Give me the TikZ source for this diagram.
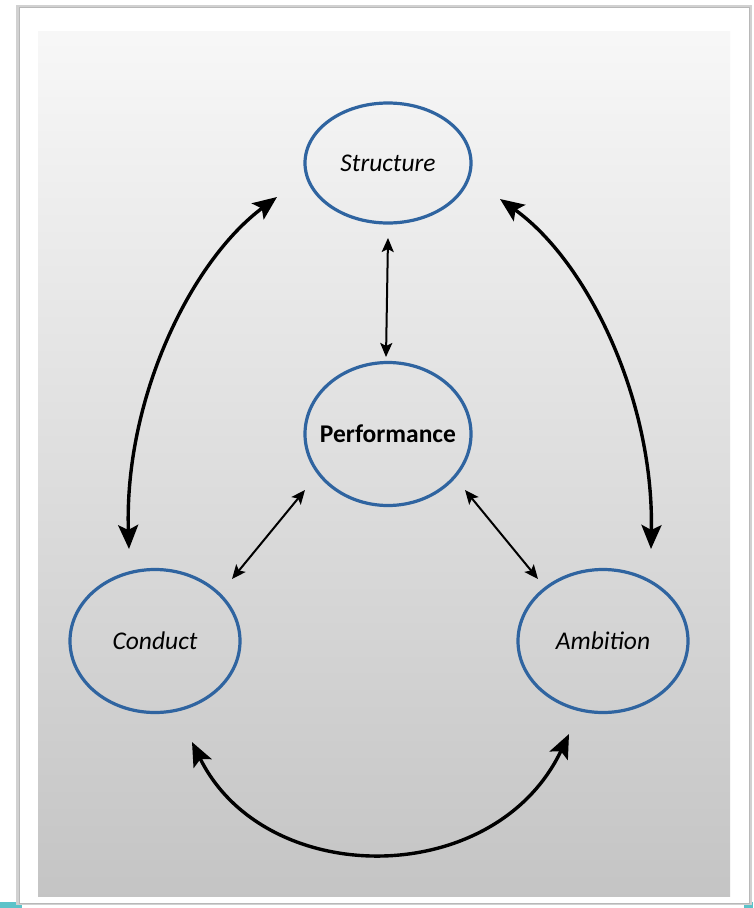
\documentclass[tikz,border=0pt]{standalone}
\usepackage{fontspec}
\setmainfont{Carlito}
\usetikzlibrary{arrows.meta,calc,shapes.geometric,shadows}
\definecolor{ringblue}{HTML}{2F64A0}
\definecolor{tealbar}{HTML}{5CC3C9}
\begin{document}
\begin{tikzpicture}[x=1pt,y=-1pt,
  ring/.style={ellipse,draw=ringblue,line width=3.2pt,fill=none,inner sep=0pt},
  lbl/.style={font=\fontsize{25.5}{30}\selectfont\itshape},
  bigarrow/.style={line width=3.4pt,{Stealth[length=24pt,width=20pt,inset=5pt]}-{Stealth[length=24pt,width=20pt,inset=5pt]}},
  smallarrow/.style={line width=2pt,{Stealth[length=14pt,width=12pt,inset=3pt]}-{Stealth[length=14pt,width=12pt,inset=3pt]}}]
\useasboundingbox (0,0) rectangle (753,908);
% frame
\fill[white] (0,0) rectangle (753,908);
\fill[tealbar] (0,902) rectangle (22,908);
\fill[tealbar] (744,902) rectangle (753,908);
\fill[black!18] (16,5) rectangle (752,905);
\fill[white,draw=black!28,line width=0.8pt] (19,7) rectangle (749,903);
\shade[top color=white!97!black,bottom color=black!23] (38,31) rectangle (730,896);
% nodes
\node[ring,minimum width=166pt,minimum height=120pt] (S) at (388,163) {};
\node[lbl] at (S) {Structure};
\node[ring,minimum width=166pt,minimum height=143pt] (P) at (388,434) {};
\node[font=\fontsize{25.5}{30}\selectfont\bfseries] at (P) {Performance};
\node[ring,minimum width=170pt,minimum height=143pt] (C) at (155,641) {};
\node[lbl] at (C) {Conduct};
\node[ring,minimum width=170pt,minimum height=143pt] (A) at (603,641) {};
\node[lbl] at (A) {Ambition};
% arrow ends
\coordinate (sl) at ($(S)+(-111,34)$);
\coordinate (sr) at ($(S)+(112,36)$);
\coordinate (sb) at ($(S)+(0,75)$);
\coordinate (pt) at ($(P)+(-2,-77)$);
\coordinate (pl) at ($(P)+(-83,56)$);
\coordinate (pr) at ($(P)+(77,56)$);
\coordinate (ct) at ($(C)+(-26,-92)$);
\coordinate (cr) at ($(C)+(77,-62)$);
\coordinate (cb) at ($(C)+(37,101)$);
\coordinate (at) at ($(A)+(48,-92)$);
\coordinate (al) at ($(A)+(-65,-62)$);
\coordinate (ab) at ($(A)+(-34,93)$);
% connectors
\draw[bigarrow] (sl) .. controls (190,262) and (124,400) .. (ct);
\draw[bigarrow] (sr) .. controls (588,262) and (654,400) .. (at);
\draw[bigarrow] (cb) .. controls (265,890) and (495,890) .. (ab);
\draw[smallarrow] (sb) -- (pt);
\draw[smallarrow] (pl) -- (cr);
\draw[smallarrow] (pr) -- (al);
\end{tikzpicture}
\end{document}
